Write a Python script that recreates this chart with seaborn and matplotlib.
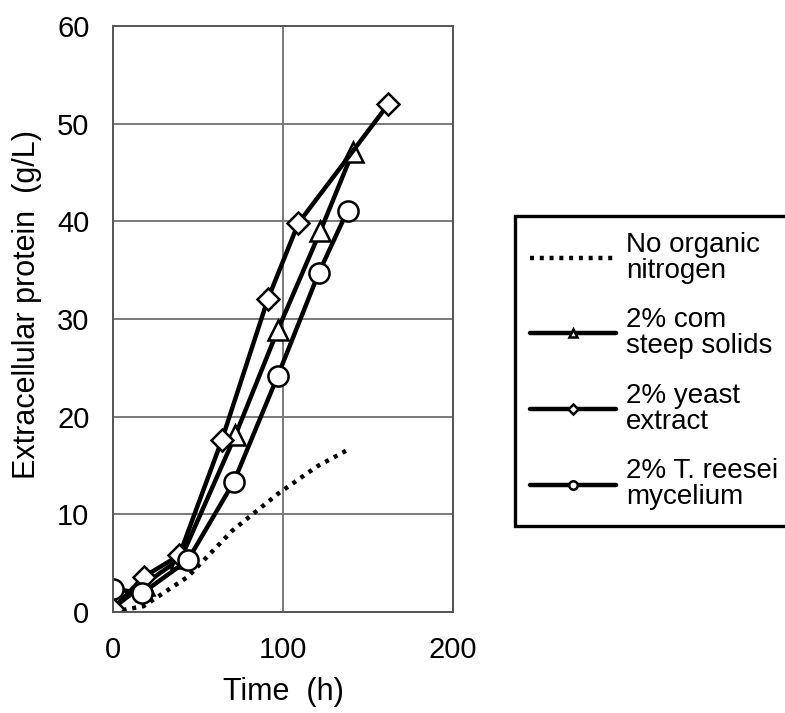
import numpy as np
import pandas as pd
import seaborn as sns
import matplotlib
matplotlib.use("Agg")
import matplotlib.pyplot as plt

# Data
t_none = [0, 18, 44, 70, 97, 120, 137]
p_none = [0.0, 0.6, 3.6, 8.3, 12.1, 14.9, 16.5]

t_corn = [0, 18, 40, 72, 97, 122, 141]
p_corn = [0.4, 2.8, 5.5, 18.1, 28.9, 39.0, 47.1]

t_yeast = [0, 18, 39, 64, 91, 109, 162]
p_yeast = [0.3, 3.6, 5.8, 17.6, 32.0, 39.8, 52.0]

t_myc = [0, 17, 44, 71, 97, 121, 138]
p_myc = [2.4, 1.9, 5.3, 13.3, 24.2, 34.7, 41.1]

labels = ["No organic\nnitrogen", "2% com\nsteep solids", "2% yeast\nextract", "2% T. reesei\nmycelium"]
xticks = [0, 100, 200]
yticks = [0, 10, 20, 30, 40, 50, 60]

sns.set_theme(style="white")
plt.rcParams['font.family'] = ['Liberation Sans', 'DejaVu Sans']

fig = plt.figure(figsize=(7.85, 7.13), dpi=100)
ax = fig.add_axes([0.144, 0.1417, 0.433, 0.8218])

lw = 3.2
mew = 1.8
sns.lineplot(x=t_none, y=p_none, ax=ax, color="black", lw=lw,
             linestyle=(0, (0.9, 1.3)), sort=False)
sns.lineplot(x=t_corn, y=p_corn, ax=ax, color="black", lw=lw, marker="^",
             markersize=15, markerfacecolor="white", markeredgecolor="black",
             markeredgewidth=mew, sort=False)
sns.lineplot(x=t_yeast, y=p_yeast, ax=ax, color="black", lw=lw, marker="D",
             markersize=11, markerfacecolor="white", markeredgecolor="black",
             markeredgewidth=mew, sort=False)
sns.lineplot(x=t_myc, y=p_myc, ax=ax, color="black", lw=lw, marker="o",
             markersize=14.5, markerfacecolor="white", markeredgecolor="black",
             markeredgewidth=mew, sort=False)

ax.set_xlim(0, 200)
ax.set_ylim(0, 60)
ax.set_xticks(xticks)
ax.set_yticks(yticks)
ax.grid(True, color="#7a7a7a", lw=1.4)
ax.set_axisbelow(True)
for s in ax.spines.values():
    s.set_color("#555555")
    s.set_linewidth(1.4)
ax.tick_params(axis="y", length=0, labelsize=21, pad=17, colors="black")
ax.tick_params(axis="x", length=0, labelsize=21, pad=17, colors="black")
ax.set_xlabel("Time  (h)", fontsize=22, labelpad=10, color="black")
ax.set_ylabel("Extracellular protein  (g/L)", fontsize=22, color="black")
ax.yaxis.set_label_coords(-0.209, 0.524)

lines = ax.lines
leg = fig.legend(lines[:4], labels, loc="center left", bbox_to_anchor=(0.656, 0.4797),
                 fontsize=20, frameon=True, fancybox=False, edgecolor="black",
                 markerscale=0.42, handlelength=3.1, handletextpad=0.36,
                 labelspacing=0.85, borderpad=0.55, borderaxespad=0, framealpha=1)
leg.get_frame().set_linewidth(2.4)
for t in leg.get_texts():
    t.set_linespacing(1.0)
    t.set_color("black")

fig.savefig("out.png", dpi=100)
